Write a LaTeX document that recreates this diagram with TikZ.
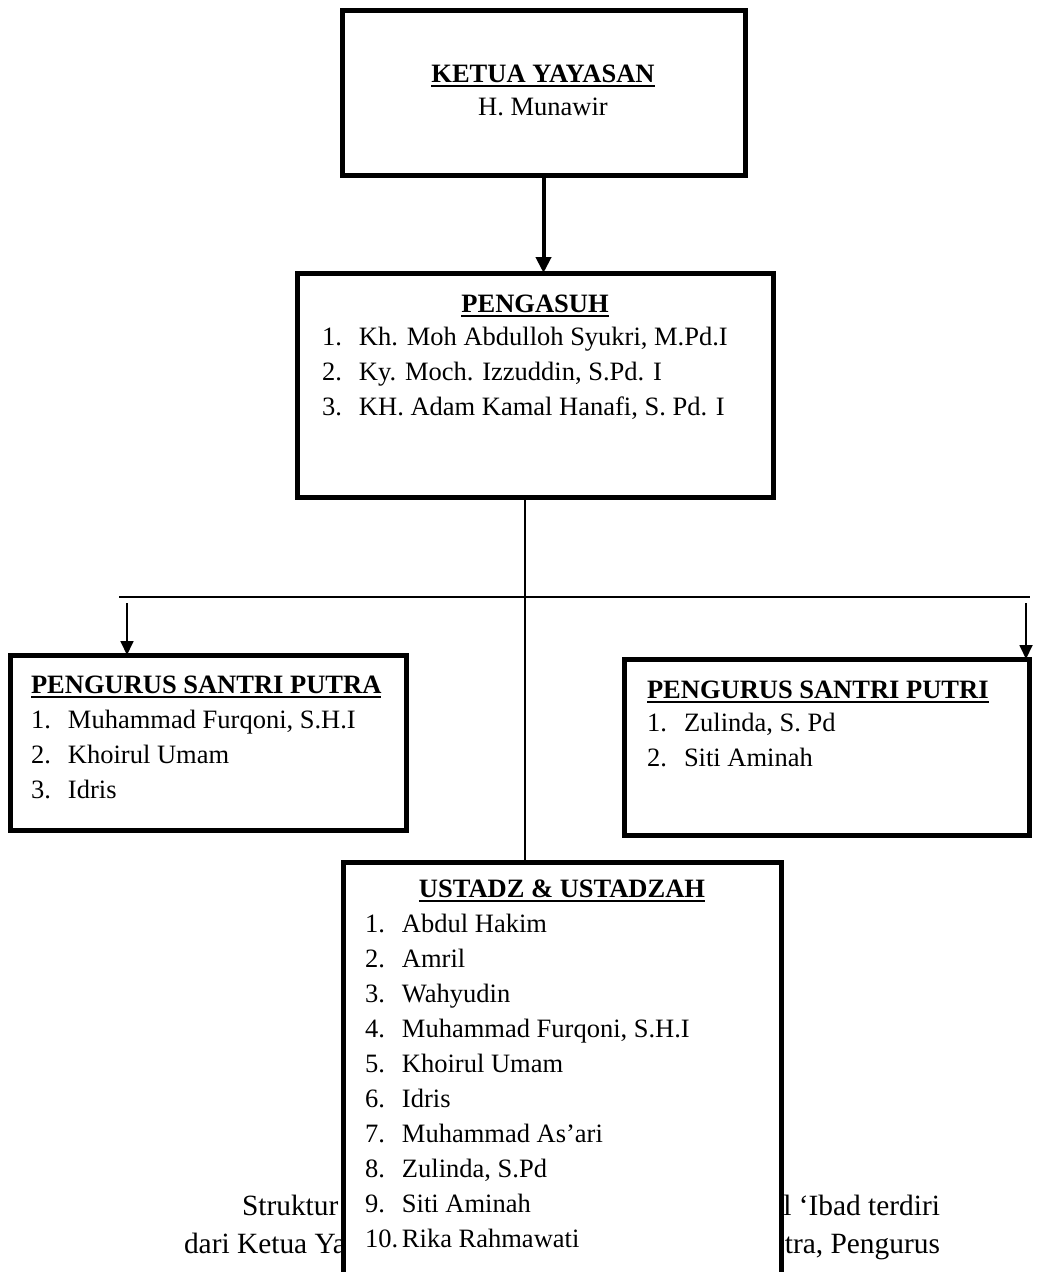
\documentclass[tikz,border=0pt]{standalone}
\usepackage{fontspec}
\setmainfont{Liberation Serif}
\usetikzlibrary{arrows.meta}
\newcommand\ttl[1]{\setbox0\hbox{\textbf{#1}}\rlap{\rule[-5pt]{\wd0}{2.5pt}}\box0}
\newcommand\li[2]{\makebox[37pt][l]{#1.}#2}
\begin{document}
\begin{tikzpicture}[x=1pt,y=-1pt,
  box/.style={draw, line width=5pt, fill=white, rectangle, inner sep=0pt, outer sep=0pt, anchor=north west},
  txt/.style={inner sep=0pt, outer sep=0pt, font=\fontsize{26.5}{35}\selectfont},
  title/.style={txt, anchor=base},
  titlew/.style={txt, anchor=base west},
  list/.style={txt, anchor=base west},
  bigtxt/.style={inner sep=0pt, outer sep=0pt, font=\fontsize{29.4}{38}\selectfont},
  bigarrow/.style={line width=4pt, -{Triangle[length=16pt,width=15pt]}},
  thinline/.style={line width=1.8pt},
  thinarrow/.style={line width=1.8pt, -{Triangle[length=14pt,width=13pt]}}]
\clip (0,0) rectangle (1038,1272);
\fill[white] (0,0) rectangle (1038,1272);

% background paragraph fragments (partly hidden by the last box)
\node[bigtxt, anchor=base west] (p1) at (242,1215) {Struktur};
\node[bigtxt, anchor=base east] (p2) at (940,1215) {l ‘Ibad terdiri};
\node[bigtxt, anchor=base west] (p3) at (184,1253) {dari Ketua Ya};
\node[bigtxt, anchor=base east] (p4) at (940,1253) {tra, Pengurus};

% boxes
\node[box, minimum width=403pt, minimum height=165pt] (ketua) at (342,10) {};
\node[box, minimum width=476pt, minimum height=224pt] (pengasuh) at (297,273) {};
\node[box, minimum width=396pt, minimum height=175pt] (putra) at (10,655) {};
\node[box, minimum width=405pt, minimum height=176pt] (putri) at (624,659) {};
\node[box, minimum width=438pt, minimum height=460pt] (ustadz) at (343,862) {};

% texts
\node[title] (tk) at (543,82) {\ttl{KETUA YAYASAN}};
\node[title] (nk) at (543,115) {H. Munawir};

\node[title] (tp) at (535,312) {\ttl{PENGASUH}};
\node[list] (lp) at (322,345) {\begin{tabular}[t]{@{}l@{}}
\li{1}{Kh. Moh Abdulloh Syukri, M.Pd.I}\\
\li{2}{Ky. Moch. Izzuddin, S.Pd. I}\\
\li{3}{KH. Adam Kamal Hanafi, S. Pd. I}
\end{tabular}};

\node[titlew] (ta) at (31,693) {\ttl{PENGURUS SANTRI PUTRA}};
\node[list] (la) at (31,728) {\begin{tabular}[t]{@{}l@{}}
\li{1}{Muhammad Furqoni, S.H.I}\\
\li{2}{Khoirul Umam}\\
\li{3}{Idris}
\end{tabular}};

\node[titlew] (ti) at (647,698) {\ttl{PENGURUS SANTRI PUTRI}};
\node[list] (li) at (647,731) {\begin{tabular}[t]{@{}l@{}}
\li{1}{Zulinda, S. Pd}\\
\li{2}{Siti Aminah}
\end{tabular}};

\node[title] (tu) at (562,897) {\ttl{USTADZ \& USTADZAH}};
\node[list] (lu) at (365,932) {\begin{tabular}[t]{@{}l@{}}
\li{1}{Abdul Hakim}\\
\li{2}{Amril}\\
\li{3}{Wahyudin}\\
\li{4}{Muhammad Furqoni, S.H.I}\\
\li{5}{Khoirul Umam}\\
\li{6}{Idris}\\
\li{7}{Muhammad As’ari}\\
\li{8}{Zulinda, S.Pd}\\
\li{9}{Siti Aminah}\\
\li{10}{Rika Rahmawati}
\end{tabular}};

% connectors
\coordinate (bus) at (525,597);
\coordinate (busL) at (119,597);
\coordinate (busR) at (1030,597);
\coordinate (aL) at (127,603);
\coordinate (aR) at (1026,603);
\draw[bigarrow] (ketua.south) -- (ketua.south |- pengasuh.north);
\draw[thinline] (bus |- pengasuh.south) -- (bus |- ustadz.north);
\draw[thinline] (busL) -- (busR);
\draw[thinarrow] (aL) -- (aL |- putra.north);
\draw[thinarrow] (aR) -- (aR |- putri.north);
\end{tikzpicture}
\end{document}
